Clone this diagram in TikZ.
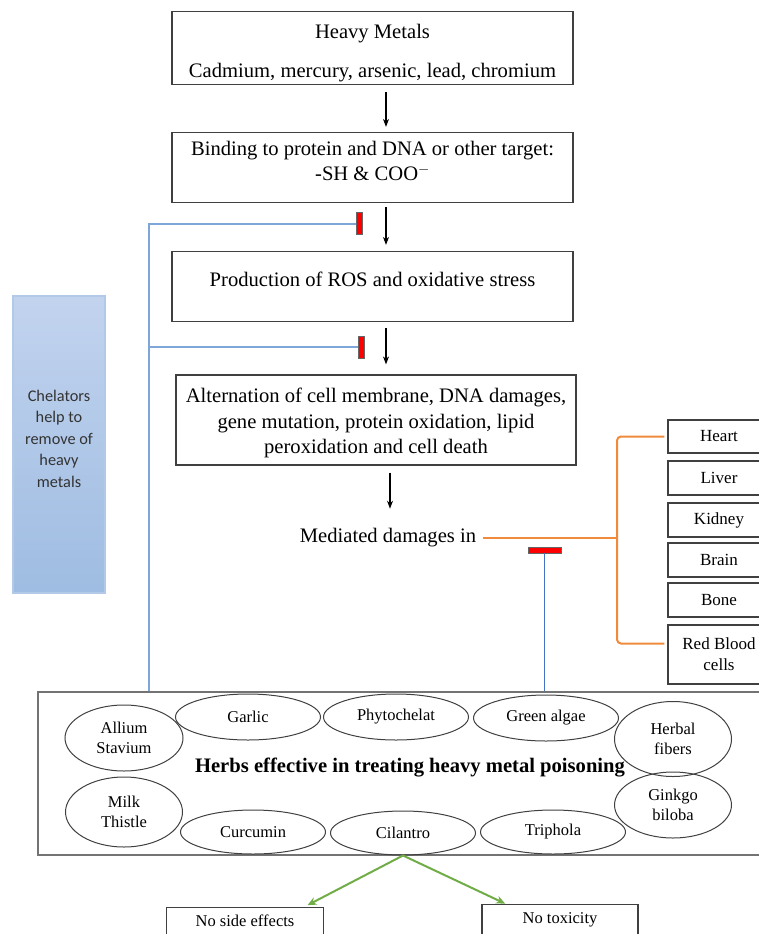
\documentclass[tikz,border=0pt]{standalone}
\usepackage{fontspec}
\setmainfont{Liberation Serif}
\newfontfamily\calib{Carlito}
\usetikzlibrary{calc, shapes.geometric, arrows.meta}
\definecolor{chelblue}{HTML}{7EA6D8}
\definecolor{linkblue}{HTML}{4472C4}
\definecolor{orng}{HTML}{F08A3C}
\definecolor{grn}{HTML}{70AD47}

\begin{document}
\begin{tikzpicture}[x=1pt, y=-1pt, >={Stealth[length=8pt, width=6pt]}, line width=1.2pt,
        box/.style={draw=black!75, align=center, minimum width=401, minimum height=70, font=\fontsize{20.6}{25.5}\selectfont},
        organ/.style={draw=black!75, align=center, minimum width=102, minimum height=34, inner sep=0pt, font=\fontsize{17}{21}\selectfont},
        herb/.style={ellipse, draw=black!75, line width=1pt, align=center, inner sep=0pt, minimum width=145, minimum height=46, font=\fontsize{16.5}{20}\selectfont},
        endbox/.style={draw=black!75, anchor=north, minimum width=157, text height=16, text depth=24, inner ysep=3pt, font=\fontsize{16.5}{20}\selectfont},
        redbar/.style={fill=red, draw=black!60, line width=0.6pt, inner sep=0pt},
        chel/.style={draw=chelblue, line width=2pt},
        gline/.style={->, draw=grn, line width=2pt, >={Stealth[length=9pt, width=8pt]}}]
            \useasboundingbox (0,0) rectangle (759,934);
            \clip (0,0) rectangle (759,934);
            % main chain
            \node[box] (0) at (372.5,48) {\rule{0pt}{24pt}Heavy Metals\\[13pt]Cadmium, mercury, arsenic, lead, chromium};
            \node[box] (1) at (372.5,167.5) {Binding to protein and DNA or other target:\\-SH \& COO$^{-}$\rule[-13.5pt]{0pt}{13.5pt}};
            \node[box] (2) at (372.5,286.5) {Production of ROS and oxidative stress\rule[-14.5pt]{0pt}{14.5pt}};
            \node[box, minimum width=400, minimum height=90] (3) at (376,420) {\rule{0pt}{20.5pt}Alternation of cell membrane, DNA damages,\\gene mutation, protein oxidation, lipid\\peroxidation and cell death};
            \node[font=\fontsize{20.6}{25.5}\selectfont] (4) at (388,538) {Mediated damages in};
            \draw[->, shorten <=7pt, shorten >=5pt] ([xshift=13.5pt]0.south) -- ([xshift=13.5pt]1.north);
            \draw[->, shorten <=4pt, shorten >=6pt] ([xshift=13.5pt]1.south) -- ([xshift=13.5pt]2.north);
            \draw[->, shorten <=6pt, shorten >=10pt] ([xshift=13.5pt]2.south) -- ([xshift=10pt]3.north);
            \draw[->, shorten <=7pt, shorten >=16pt] ([xshift=14pt]3.south) -- ([xshift=2pt]4.north);
            % chelators
            \node[draw=chelblue!60, top color=blue!5!chelblue!45, bottom color=chelblue!75, minimum width=92, minimum height=297, align=center, text=black!80, font=\calib\fontsize{16.3}{21.5}\selectfont] (chel) at (59,444.5) {Chelators\\help to\\remove of\\heavy\\metals\rule[-12pt]{0pt}{12pt}};
            % organs
            \node[organ, minimum height=33] (heart) at (719,436.5) {Heart};
            \node[organ] (liver) at (719,478) {Liver};
            \node[organ] (kidney) at (719,520) {Kidney};
            \node[organ] (brain) at (719,560) {Brain};
            \node[organ] (bone) at (719,600) {Bone};
            \node[organ, minimum height=59] (rbc) at (719,654.5) {Red Blood\\cells};
            \coordinate (brk) at (617,538);
            \draw[orng, line width=2pt, shorten <=3pt] (4.east) -- (brk);
            \draw[orng, line width=2pt, rounded corners=4pt, shorten <=3pt, shorten >=3pt] (heart.west) -| (brk) |- ($(rbc.west)+(0,-11)$);
            % herbs
            \node[draw=black!55, minimum width=732, minimum height=163, inner sep=0pt] (herbs) at (404,773.5) {};
            \node[font=\bfseries\fontsize{20.6}{25}\selectfont] (htxt) at (410,768) {Herbs effective in treating heavy metal poisoning};
            \node[herb, minimum width=118, minimum height=66] (allium) at (124,738) {Allium\\Stavium};
            \node[herb] (garlic) at (248,717) {Garlic};
            \node[herb] (phyto) at (396,717) {Phytochelat};
            \node[herb] (algae) at (546,718) {Green algae};
            \node[herb, minimum width=117, minimum height=75] (fibers) at (673,739) {Herbal\\fibers};
            \node[herb, minimum width=117, minimum height=70] (milk) at (124,812) {Milk\\Thistle};
            \node[herb, minimum height=44] (curc) at (253,832) {Curcumin};
            \node[herb, minimum height=44] (cil) at (403,833) {Cilantro};
            \node[herb, minimum height=44] (triph) at (553,832) {Triphola};
            \node[herb, minimum width=117, minimum height=66] (ginkgo) at (673,805) {Ginkgo\\biloba};
            % inhibition
            \node[redbar, minimum width=6, minimum height=22] (bar1) at (359,223.5) {};
            \node[redbar, minimum width=6, minimum height=22] (bar2) at (361,347) {};
            \node[redbar, minimum width=33, minimum height=6] (bar3) at (544.5,550) {};
            \coordinate (trunk) at ($(herbs.north west)+(112,0)$);
            \draw[chel] (trunk) |- (bar1.west);
            \draw[chel] (bar2.west) -- (bar2.west -| trunk);
            \draw[linkblue, line width=1.5pt] (bar3.south) -- (bar3.south |- herbs.north);
            % outcome
            \node[endbox] (nse) at (245,907) {No side effects};
            \node[endbox, minimum width=156] (ntox) at (560,904) {No toxicity};
            \draw[gline, shorten >=4pt] (cil.south) -- ([xshift=59pt]nse.north);
            \draw[gline, shorten >=1pt] (cil.south) -- ([xshift=-54pt]ntox.north);
        \end{tikzpicture}
\end{document}
